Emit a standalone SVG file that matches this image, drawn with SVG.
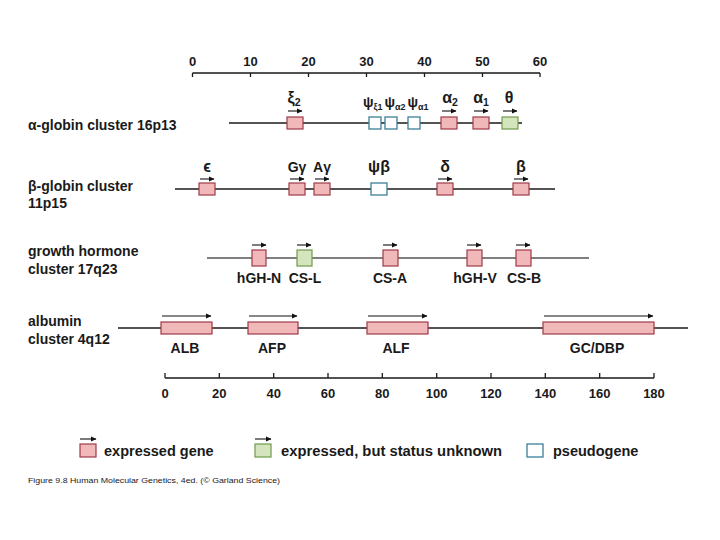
<svg xmlns="http://www.w3.org/2000/svg" width="720" height="540" viewBox="0 0 720 540">
<defs>
<marker id="ah" viewBox="0 0 6 6" refX="5.5" refY="3" markerWidth="6" markerHeight="6" markerUnits="userSpaceOnUse" orient="auto"><path d="M0,0.4 L6,3 L0,5.6z" fill="#111"/></marker>
<style>
text{font-family:"Liberation Sans",Arial,sans-serif;font-weight:bold;fill:#1a1a1a}
.lbl{font-size:14px}
.ax{font-size:13px;text-anchor:middle}
.g{font-size:14px;text-anchor:middle}
.gk{font-size:16px;text-anchor:middle}
.ps-l{font-size:14px}
.sub{font-size:10.5px}
.sub2{font-size:9px}
.chr{stroke:#1a1a1a;stroke-width:1.6;fill:none}
.axl{stroke:#1a1a1a;stroke-width:1.3;fill:none}
.ex{fill:#f0b8b8;stroke:#9e3a48;stroke-width:1.2}
.un{fill:#d4e5bd;stroke:#6f9a4c;stroke-width:1.2}
.ps{fill:#ffffff;stroke:#3c7f99;stroke-width:1.3}
.arr{stroke:#111;stroke-width:1.1;fill:none;marker-end:url(#ah)}
.foot{font-size:7.5px;font-weight:normal}
</style>
</defs>
<rect width="720" height="540" fill="#ffffff"/>

<g id="connectors">
  <!-- top axis -->
  <path class="axl" d="M192.5,73 H540 M192.5,73 V77 M250.5,73 V77 M308.5,73 V77 M366.5,73 V77 M424.5,73 V77 M482.5,73 V77 M540,73 V77"/>
  <!-- chromosome lines -->
  <line class="chr" x1="229" y1="123" x2="522" y2="123"/>
  <line class="chr" x1="175" y1="189" x2="555" y2="189"/>
  <line class="chr" x1="207" y1="258" x2="589" y2="258" style="stroke:#555"/>
  <line class="chr" x1="118" y1="328" x2="688" y2="328"/>
  <!-- bottom axis -->
  <path class="axl" d="M165,378 H654 M165,378 V373 M219.3,378 V373 M273.7,378 V373 M328,378 V373 M382.3,378 V373 M436.7,378 V373 M491,378 V373 M545.3,378 V373 M599.7,378 V373 M654,378 V373"/>
</g>

<g id="top-axis-labels">
  <text class="ax" x="192.5" y="66">0</text>
  <text class="ax" x="250.5" y="66">10</text>
  <text class="ax" x="308.5" y="66">20</text>
  <text class="ax" x="366.5" y="66">30</text>
  <text class="ax" x="424.5" y="66">40</text>
  <text class="ax" x="482.5" y="66">50</text>
  <text class="ax" x="540" y="66">60</text>
</g>

<g id="row-labels">
  <text class="lbl" x="28" y="130">α-globin cluster 16p13</text>
  <text class="lbl" x="28" y="191">β-globin cluster</text>
  <text class="lbl" x="28" y="208">11p15</text>
  <text class="lbl" x="28" y="256">growth hormone</text>
  <text class="lbl" x="28" y="274">cluster 17q23</text>
  <text class="lbl" x="28" y="326">albumin</text>
  <text class="lbl" x="28" y="344">cluster 4q12</text>
</g>

<!-- alpha-globin cluster -->
<g id="zeta2">
  <text class="gk" x="294" y="103">ξ<tspan class="sub" dy="3">2</tspan></text>
  <line class="arr" x1="288" y1="111" x2="302" y2="111"/>
  <rect class="ex" x="287" y="117" width="16" height="12"/>
</g>
<g id="psi-zeta1">
  <text class="ps-l" x="363" y="107">ψ<tspan class="sub2" dy="3">ξ1</tspan></text>
  <rect class="ps" x="369" y="117" width="12" height="12"/>
</g>
<g id="psi-alpha2">
  <text class="ps-l" x="384.5" y="107">ψ<tspan class="sub2" dy="3">α2</tspan></text>
  <rect class="ps" x="385" y="117" width="12" height="12"/>
</g>
<g id="psi-alpha1">
  <text class="ps-l" x="407.5" y="107">ψ<tspan class="sub2" dy="3">α1</tspan></text>
  <rect class="ps" x="408" y="117" width="12" height="12"/>
</g>
<g id="alpha2">
  <text class="gk" x="450" y="103">α<tspan class="sub" dy="3">2</tspan></text>
  <line class="arr" x1="442" y1="111" x2="456" y2="111"/>
  <rect class="ex" x="441" y="117" width="16" height="12"/>
</g>
<g id="alpha1">
  <text class="gk" x="481" y="103">α<tspan class="sub" dy="3">1</tspan></text>
  <line class="arr" x1="474" y1="111" x2="488" y2="111"/>
  <rect class="ex" x="473" y="117" width="16" height="12"/>
</g>
<g id="theta">
  <text class="gk" x="509" y="103">θ</text>
  <line class="arr" x1="503" y1="111" x2="517" y2="111"/>
  <rect class="un" x="502" y="117" width="16" height="12"/>
</g>

<!-- beta-globin cluster -->
<g id="epsilon">
  <text class="gk" x="207" y="172">ϵ</text>
  <line class="arr" x1="200" y1="179" x2="214" y2="179"/>
  <rect class="ex" x="199" y="183" width="16" height="12"/>
</g>
<g id="G-gamma">
  <text class="g" x="297" y="172">Gγ</text>
  <line class="arr" x1="290" y1="179" x2="304" y2="179"/>
  <rect class="ex" x="289" y="183" width="16" height="12"/>
</g>
<g id="A-gamma">
  <text class="g" x="322" y="172">Aγ</text>
  <line class="arr" x1="315" y1="179" x2="329" y2="179"/>
  <rect class="ex" x="314" y="183" width="16" height="12"/>
</g>
<g id="psi-beta">
  <text class="gk" x="379" y="172">ψβ</text>
  <rect class="ps" x="371" y="183" width="16" height="12"/>
</g>
<g id="delta">
  <text class="gk" x="445" y="172">δ</text>
  <line class="arr" x1="438" y1="179" x2="452" y2="179"/>
  <rect class="ex" x="437" y="183" width="16" height="12"/>
</g>
<g id="beta">
  <text class="gk" x="521" y="172">β</text>
  <line class="arr" x1="514" y1="179" x2="528" y2="179"/>
  <rect class="ex" x="513" y="183" width="16" height="12"/>
</g>

<!-- growth hormone cluster -->
<g id="hGH-N">
  <line class="arr" x1="252" y1="245" x2="266" y2="245"/>
  <rect class="ex" x="252" y="250" width="14" height="16"/>
  <text class="g" x="259" y="283">hGH-N</text>
</g>
<g id="CS-L">
  <line class="arr" x1="297" y1="245" x2="311" y2="245"/>
  <rect class="un" x="297" y="250" width="15" height="16"/>
  <text class="g" x="305" y="283">CS-L</text>
</g>
<g id="CS-A">
  <line class="arr" x1="383" y1="245" x2="397" y2="245"/>
  <rect class="ex" x="383" y="250" width="15" height="16"/>
  <text class="g" x="390" y="283">CS-A</text>
</g>
<g id="hGH-V">
  <line class="arr" x1="467" y1="245" x2="481" y2="245"/>
  <rect class="ex" x="467" y="250" width="15" height="16"/>
  <text class="g" x="475" y="283">hGH-V</text>
</g>
<g id="CS-B">
  <line class="arr" x1="516" y1="245" x2="530" y2="245"/>
  <rect class="ex" x="516" y="250" width="15" height="16"/>
  <text class="g" x="524" y="283">CS-B</text>
</g>

<!-- albumin cluster -->
<g id="ALB">
  <line class="arr" x1="162" y1="316" x2="211" y2="316"/>
  <rect class="ex" x="161" y="322" width="51" height="12"/>
  <text class="g" x="185" y="353">ALB</text>
</g>
<g id="AFP">
  <line class="arr" x1="249" y1="316" x2="297" y2="316"/>
  <rect class="ex" x="248" y="322" width="50" height="12"/>
  <text class="g" x="272" y="353">AFP</text>
</g>
<g id="ALF">
  <line class="arr" x1="368" y1="316" x2="427" y2="316"/>
  <rect class="ex" x="367" y="322" width="61" height="12"/>
  <text class="g" x="396" y="353">ALF</text>
</g>
<g id="GC-DBP">
  <line class="arr" x1="544" y1="316" x2="653" y2="316"/>
  <rect class="ex" x="543" y="322" width="111" height="12"/>
  <text class="g" x="597" y="353">GC/DBP</text>
</g>

<g id="bottom-axis-labels">
  <text class="ax" x="165" y="398">0</text>
  <text class="ax" x="219.3" y="398">20</text>
  <text class="ax" x="273.7" y="398">40</text>
  <text class="ax" x="328" y="398">60</text>
  <text class="ax" x="382.3" y="398">80</text>
  <text class="ax" x="436.7" y="398">100</text>
  <text class="ax" x="491" y="398">120</text>
  <text class="ax" x="545.3" y="398">140</text>
  <text class="ax" x="599.7" y="398">160</text>
  <text class="ax" x="654" y="398">180</text>
</g>

<g id="legend">
  <g id="legend-expressed">
    <line class="arr" x1="80" y1="439" x2="96" y2="439"/>
    <rect class="ex" x="80" y="444" width="16" height="13"/>
    <text class="lbl" x="104" y="456" style="font-size:14.5px">expressed gene</text>
  </g>
  <g id="legend-unknown">
    <line class="arr" x1="255" y1="439" x2="271" y2="439"/>
    <rect class="un" x="255" y="444" width="16" height="13"/>
    <text class="lbl" x="281" y="456" style="font-size:14.5px" textLength="221" lengthAdjust="spacingAndGlyphs">expressed, but status unknown</text>
  </g>
  <g id="legend-pseudo">
    <rect class="ps" x="527" y="444" width="16" height="13"/>
    <text class="lbl" x="553" y="456" style="font-size:14.5px">pseudogene</text>
  </g>
</g>

<text class="foot" x="28" y="483" textLength="252" lengthAdjust="spacingAndGlyphs">Figure 9.8  Human Molecular Genetics, 4ed. (© Garland Science)</text>
</svg>
